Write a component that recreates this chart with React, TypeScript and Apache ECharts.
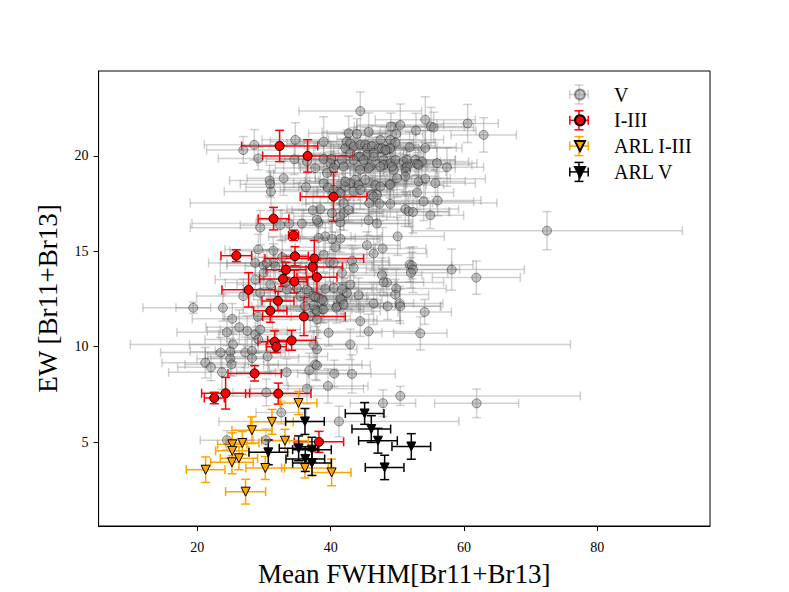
import React, { useEffect, useRef } from "react";
import * as echarts from "echarts";

// [x, y, xerr, yerr]
const vData: number[][] = [
  [44.45, 22.35, 9.2, 1.0], [26.9, 20.31, 5.5, 0.7], [28.55, 20.58, 7.5, 0.8], [29.15, 19.87, 6.0, 0.6],
  [34.7, 20.84, 5.0, 0.9], [34.55, 19.82, 4.2, 0.8], [38.95, 20.75, 8.0, 1.3], [38.95, 19.84, 6.5, 0.7],
  [40.7, 19.53, 5.5, 0.6], [42.7, 21.19, 6.0, 0.9], [43.95, 21.15, 4.5, 0.8], [45.7, 21.25, 7.0, 1.0],
  [49.05, 21.54, 5.5, 0.7], [50.45, 21.62, 6.5, 1.1], [49.85, 21.15, 4.0, 0.6], [48.95, 20.84, 8.0, 0.9],
  [47.45, 20.84, 5.0, 0.7], [49.7, 20.7, 6.0, 1.0], [54.2, 21.9, 7.5, 1.2], [55.05, 21.54, 5.0, 1.0],
  [55.45, 21.49, 6.0, 0.8], [52.8, 21.33, 9.0, 0.9], [60.55, 21.7, 4.6, 1.0], [62.95, 21.1, 4.9, 0.9],
  [42.45, 20.75, 7.0, 0.6], [42.2, 20.4, 5.5, 0.8], [42.95, 20.66, 9.5, 0.7], [43.45, 20.49, 6.0, 1.0],
  [44.45, 20.58, 4.5, 0.5], [45.2, 20.58, 7.0, 0.9], [45.45, 20.4, 5.0, 0.7], [46.2, 20.5, 8.5, 1.1],
  [47.2, 20.4, 6.0, 0.6], [47.7, 20.4, 4.0, 0.8], [48.45, 20.31, 5.5, 0.7], [48.95, 20.4, 7.0, 0.9],
  [42.95, 20.14, 6.5, 0.8], [44.2, 19.96, 5.0, 1.0], [45.45, 20.05, 8.0, 0.7], [46.45, 20.14, 4.5, 0.6],
  [48.2, 20.31, 6.0, 1.2], [51.85, 20.45, 7.0, 0.8], [54.2, 20.42, 5.5, 0.9],
  [44.45, 19.96, 6.0, 0.7], [46.45, 19.96, 7.5, 1.0], [47.95, 19.79, 5.0, 0.8], [48.95, 19.62, 6.5, 0.6],
  [49.7, 19.79, 9.0, 1.0], [50.95, 19.7, 5.5, 0.7], [51.45, 19.79, 4.5, 0.9], [52.7, 19.79, 6.0, 0.8],
  [53.7, 19.7, 7.0, 1.1], [52.95, 19.58, 5.0, 0.6], [53.2, 19.53, 8.0, 0.9], [55.95, 19.62, 6.0, 0.8],
  [57.45, 19.41, 5.5, 1.0], [51.2, 19.36, 7.5, 0.7], [51.45, 19.44, 4.0, 0.9], [51.3, 19.18, 6.0, 1.2],
  [51.2, 18.93, 5.0, 0.8], [49.45, 19.27, 6.5, 0.7], [49.95, 18.83, 8.0, 1.0], [47.95, 19.53, 5.5, 0.6],
  [47.45, 19.44, 7.0, 0.8], [49.2, 19.44, 4.5, 0.9], [45.95, 19.44, 6.0, 1.0], [44.95, 19.79, 9.0, 0.7],
  [43.45, 19.79, 5.0, 0.8], [41.7, 19.79, 6.5, 1.1], [40.1, 19.84, 7.0, 0.9], [39.95, 19.62, 5.5, 0.6],
  [39.45, 19.1, 8.0, 0.8], [37.7, 19.36, 6.0, 0.7], [36.45, 19.7, 7.5, 1.0], [40.45, 19.36, 5.0, 0.9],
  [41.95, 19.44, 6.5, 0.6], [44.45, 19.27, 7.0, 0.8], [45.7, 19.36, 5.5, 1.0], [43.7, 18.75, 6.0, 0.7],
  [42.95, 18.57, 8.5, 0.9], [44.2, 18.48, 5.0, 0.8], [43.45, 18.13, 6.0, 1.1], [45.2, 18.75, 7.0, 0.6],
  [46.7, 18.48, 4.5, 0.9], [47.45, 18.39, 6.0, 0.8], [48.85, 18.52, 5.5, 1.0], [48.95, 18.48, 8.0, 0.7],
  [46.2, 17.96, 6.5, 0.9], [46.95, 17.96, 5.0, 0.6], [53.2, 18.66, 7.0, 0.8], [54.2, 18.8, 9.0, 1.0],
  [55.7, 18.57, 6.0, 0.7], [52.95, 18.08, 5.5, 0.9], [56.05, 17.66, 6.5, 0.8], [53.95, 17.61, 7.5, 1.0],
  [54.95, 16.89, 5.0, 0.7], [51.2, 17.21, 8.0, 0.9], [51.7, 17.09, 6.0, 0.8], [52.35, 17.06, 5.5, 1.1],
  [48.95, 17.49, 7.0, 0.7], [47.35, 17.49, 6.0, 0.9], [45.8, 17.53, 9.5, 0.6], [46.45, 17.87, 5.0, 0.8],
  [44.45, 18.22, 6.5, 1.0], [42.2, 18.39, 7.0, 0.7], [41.2, 18.13, 5.5, 0.9], [40.45, 18.22, 8.0, 0.8],
  [42.2, 18.66, 6.0, 1.0], [38.95, 18.57, 7.5, 0.7], [36.3, 18.36, 9.0, 0.9], [41.45, 18.05, 5.0, 0.6],
  [30.85, 18.71, 6.0, 0.8], [30.95, 18.52, 4.5, 0.7], [31.05, 18.13, 7.0, 1.0], [32.95, 18.83, 5.5, 0.9],
  [39.6, 18.34, 6.5, 0.8], [41.95, 17.53, 23.0, 0.9],
  [37.35, 17.15, 6.0, 0.8], [38.45, 17.21, 5.0, 0.7], [40.2, 17.0, 7.5, 1.0], [41.95, 17.0, 6.0, 0.9],
  [42.7, 17.17, 8.5, 0.6], [38.15, 16.51, 6.5, 0.8], [41.45, 16.51, 5.5, 1.0], [41.45, 16.83, 7.0, 0.7],
  [37.95, 16.65, 9.0, 0.9], [45.7, 16.63, 6.0, 0.8], [46.95, 16.45, 5.0, 1.1], [35.7, 16.45, 16.5, 0.7],
  [29.45, 16.24, 10.5, 0.9], [32.45, 16.37, 6.0, 0.8], [33.8, 16.45, 5.0, 0.6], [50.05, 15.78, 7.0, 1.0],
  [39.2, 15.78, 8.5, 0.8], [41.45, 15.66, 6.0, 0.7], [38.2, 15.7, 5.5, 0.9], [40.2, 15.65, 7.0, 1.0],
  [40.7, 15.21, 6.0, 0.8], [45.45, 15.32, 5.0, 0.7], [46.45, 14.88, 8.0, 0.9], [47.8, 15.15, 6.5, 1.1],
  [72.45, 16.08, 20.3, 1.0],
  [29.15, 15.09, 5.0, 0.8], [31.4, 15.03, 6.5, 0.7], [32.75, 14.69, 4.5, 0.9], [28.7, 14.39, 7.0, 0.6],
  [29.95, 14.25, 5.5, 0.8], [31.45, 14.39, 8.0, 1.0], [30.45, 14.39, 6.0, 0.7], [31.7, 14.21, 4.5, 0.9],
  [29.95, 13.87, 6.5, 0.8], [39.85, 14.42, 9.0, 1.0], [40.45, 14.39, 6.0, 0.7], [38.95, 14.82, 7.5, 0.9],
  [43.2, 14.51, 5.5, 0.8], [41.7, 13.87, 6.5, 0.6], [43.45, 14.13, 8.0, 1.0], [51.85, 14.3, 9.5, 0.9],
  [52.2, 14.25, 6.0, 0.7], [52.35, 14.04, 7.0, 1.2], [52.05, 13.87, 5.5, 0.8], [58.15, 14.04, 10.9, 1.08],
  [61.85, 13.62, 6.6, 0.87], [47.7, 13.75, 6.0, 0.9], [48.45, 13.36, 8.5, 0.7], [42.95, 13.26, 7.0, 1.0],
  [28.7, 13.52, 6.0, 0.8], [30.95, 13.26, 5.0, 0.7], [33.2, 13.35, 9.0, 0.9], [33.45, 13.0, 6.5, 0.6],
  [34.95, 13.08, 5.5, 1.0], [35.45, 12.65, 7.0, 0.8], [36.7, 12.91, 6.0, 0.7], [37.45, 12.65, 8.0, 0.9],
  [38.2, 12.56, 5.0, 1.1], [38.95, 12.38, 6.5, 0.8], [38.7, 11.95, 7.5, 0.7], [37.7, 11.95, 5.5, 0.9],
  [36.95, 11.6, 6.0, 0.8], [37.95, 11.43, 9.0, 1.0], [40.95, 12.12, 7.0, 0.7], [41.7, 12.47, 6.0, 0.9],
  [42.45, 12.82, 5.0, 0.8], [41.7, 13.0, 8.0, 0.6], [40.45, 13.08, 6.5, 1.0], [39.2, 13.03, 7.0, 0.8],
  [44.2, 12.7, 5.5, 0.9], [47.95, 13.38, 6.0, 0.7], [49.85, 13.05, 7.5, 1.0], [49.7, 12.73, 5.0, 0.8],
  [50.35, 12.26, 6.5, 0.9], [48.55, 12.12, 8.0, 0.7], [46.45, 12.26, 6.0, 1.1], [41.45, 12.51, 5.5, 0.8],
  [38.7, 12.47, 7.0, 0.7], [37.7, 12.61, 6.0, 0.9], [37.45, 12.16, 5.0, 0.8], [37.95, 11.86, 9.5, 1.0],
  [38.95, 11.95, 6.0, 0.7], [40.85, 12.04, 7.5, 0.8], [41.95, 12.21, 5.5, 0.9], [36.2, 12.12, 8.0, 0.7],
  [36.45, 13.0, 6.0, 0.8], [26.9, 12.65, 7.0, 0.9], [29.45, 12.82, 5.5, 0.7], [50.45, 12.12, 6.0, 0.9],
  [54.1, 11.82, 4.0, 0.65], [53.45, 10.7, 4.0, 0.87], [44.45, 11.34, 6.0, 0.8], [45.7, 10.8, 7.5, 0.9],
  [39.7, 10.73, 8.0, 0.7], [42.95, 10.12, 33.0, 0.8], [37.95, 9.86, 6.0, 0.9], [37.7, 9.07, 7.0, 0.8],
  [37.45, 10.12, 5.5, 0.7], [19.4, 12.04, 2.6, 0.3], [23.85, 12.04, 12.0, 0.7], [25.25, 11.46, 6.0, 0.8],
  [26.3, 11.02, 5.0, 0.9], [24.45, 10.75, 7.5, 0.7], [27.5, 10.82, 6.0, 0.8], [28.7, 10.64, 5.5, 1.0],
  [29.15, 10.38, 8.0, 0.7], [25.35, 10.12, 6.5, 0.9], [23.5, 9.69, 9.0, 0.8], [24.95, 9.74, 6.0, 0.7],
  [24.95, 9.37, 5.0, 0.9], [25.15, 9.07, 7.0, 0.6], [21.2, 9.16, 6.5, 0.8], [22.05, 8.92, 5.0, 0.7],
  [23.7, 8.66, 8.0, 0.9], [27.2, 9.7, 6.0, 0.8], [28.2, 9.78, 5.5, 0.7], [28.2, 9.4, 7.0, 1.0],
  [30.55, 9.49, 9.0, 0.8], [29.45, 10.9, 6.0, 0.7], [29.1, 11.57, 5.0, 0.9], [33.4, 8.66, 7.5, 0.7],
  [36.8, 8.76, 6.0, 0.9], [37.95, 9.02, 8.0, 0.8], [40.55, 8.59, 5.5, 0.7], [43.2, 8.57, 6.5, 1.0],
  [36.45, 7.8, 8.5, 0.8], [39.6, 7.94, 6.0, 0.9], [47.85, 7.04, 4.9, 0.7], [50.45, 7.42, 27.0, 0.5],
  [61.9, 7.03, 6.3, 0.75], [32.6, 6.55, 3.8, 0.6], [41.25, 6.08, 18.0, 0.8], [24.45, 5.1, 4.0, 0.5],
  [30.3, 5.1, 3.5, 0.6], [30.35, 7.6, 5.0, 0.7],
];

const i3Data: number[][] = [
  [32.35, 20.52, 5.7, 0.82], [36.55, 20.0, 6.75, 0.85], [40.44, 17.86, 5.0, 1.29], [31.44, 16.71, 2.3, 0.59],
  [34.44, 15.84, 0.75, 0.27], [25.85, 14.77, 2.3, 0.31], [34.65, 14.74, 2.0, 0.5], [37.55, 14.62, 7.4, 0.95],
  [37.29, 14.18, 4.5, 0.5], [33.3, 14.03, 3.0, 0.4], [37.95, 13.64, 3.0, 0.9], [32.85, 13.55, 3.5, 0.4],
  [34.55, 13.41, 2.0, 0.6], [27.7, 12.98, 4.0, 0.9], [32.1, 12.4, 2.4, 0.5], [30.95, 11.88, 2.5, 0.6],
  [36.0, 11.58, 6.2, 1.0], [31.6, 10.26, 2.5, 0.57], [31.85, 10.0, 1.5, 0.3], [34.15, 10.33, 3.6, 0.52],
  [28.6, 8.6, 4.0, 0.4], [24.25, 7.56, 3.6, 0.83], [22.55, 7.31, 1.5, 0.3], [32.15, 7.54, 4.9, 0.55],
  [38.25, 5.01, 3.7, 0.55],
];

const arlI3Data: number[][] = [
  [35.19, 7.05, 2.75, 0.61], [31.2, 6.06, 3.2, 0.65], [28.2, 5.62, 3.0, 0.7], [33.15, 5.07, 3.5, 0.6],
  [25.25, 4.88, 2.2, 0.6], [26.75, 4.95, 2.5, 0.6], [25.25, 4.54, 2.5, 0.6], [26.25, 4.15, 2.8, 0.6],
  [25.2, 3.94, 3.2, 0.6], [21.25, 3.55, 2.9, 0.67], [30.2, 3.64, 2.9, 0.6], [36.15, 3.64, 3.5, 0.52],
  [40.15, 3.41, 2.9, 0.7], [27.25, 2.4, 3.0, 0.65],
];

const arlVData: number[][] = [
  [45.1, 6.5, 2.9, 0.57], [46.1, 5.68, 2.9, 0.7], [47.1, 5.07, 2.9, 0.65], [52.1, 4.77, 2.9, 0.67],
  [48.1, 3.67, 2.9, 0.64], [36.15, 6.08, 2.9, 0.68], [30.65, 4.46, 2.9, 0.65], [35.2, 4.67, 2.9, 0.65],
  [37.2, 4.6, 2.9, 0.65], [36.2, 4.11, 2.9, 0.65], [37.2, 3.9, 2.9, 0.65],
];

const seriesNames = ["V", "I-III", "ARL I-III", "ARL V"];
const xTicks = [20, 40, 60, 80];
const yTicks = [5, 10, 15, 20];
const xLabel = "Mean FWHM[Br11+Br13]";
const yLabel = "EW [Br11+Br13]";

const FONT = "'Liberation Serif', 'DejaVu Serif', serif";
const CAP = 4.5;
const TRI_DOWN = "path://M0,0L10,0L5,10Z";

const GRAY_BAR = "rgba(128,128,128,0.36)";
const GRAY_FILL = "rgba(128,128,128,0.45)";
const GRAY_EDGE = "rgba(0,0,0,0.38)";

function errRender(color: string, lw: number) {
  return (_params: any, api: any) => {
    const x = api.value(0);
    const y = api.value(1);
    const ex = api.value(2);
    const ey = api.value(3);
    const l = api.coord([x - ex, y]);
    const r = api.coord([x + ex, y]);
    const b = api.coord([x, y - ey]);
    const t = api.coord([x, y + ey]);
    const style = { stroke: color, lineWidth: lw, fill: null };
    const ln = (x1: number, y1: number, x2: number, y2: number) => ({
      type: "line",
      shape: { x1, y1, x2, y2 },
      style,
    });
    return {
      type: "group",
      children: [
        ln(l[0], l[1], r[0], r[1]),
        ln(l[0], l[1] - CAP, l[0], l[1] + CAP),
        ln(r[0], r[1] - CAP, r[0], r[1] + CAP),
        ln(b[0], b[1], t[0], t[1]),
        ln(b[0] - CAP, b[1], b[0] + CAP, b[1]),
        ln(t[0] - CAP, t[1], t[0] + CAP, t[1]),
      ],
    };
  };
}

function legendCross(cx: number, cy: number, color: string) {
  const h = 9.2;
  const v = 9.5;
  const style = { stroke: color, lineWidth: 1.5 };
  const mk = (x1: number, y1: number, x2: number, y2: number) => ({
    type: "line",
    shape: { x1, y1, x2, y2 },
    style,
    silent: true,
  });
  return [
    mk(cx - h, cy, cx + h, cy),
    mk(cx - h, cy - CAP, cx - h, cy + CAP),
    mk(cx + h, cy - CAP, cx + h, cy + CAP),
    mk(cx, cy - v, cx, cy + v),
    mk(cx - CAP, cy - v, cx + CAP, cy - v),
    mk(cx - CAP, cy + v, cx + CAP, cy + v),
  ];
}

export default function App() {
  const ref = useRef<HTMLDivElement>(null);

  useEffect(() => {
    if (!ref.current) return;
    const chart = echarts.init(ref.current, undefined, { renderer: "svg" });

    const sets = [
      { name: seriesNames[0], data: vData, bar: GRAY_BAR, fill: GRAY_FILL, edge: GRAY_EDGE, symbol: "circle", rot: 0 },
      { name: seriesNames[1], data: i3Data, bar: "#ff0000", fill: "#ff0000", edge: "#000000", symbol: "circle", rot: 0 },
      { name: seriesNames[2], data: arlI3Data, bar: "#ffa500", fill: "#ffa500", edge: "#000000", symbol: "triangle", rot: 180 },
      { name: seriesNames[3], data: arlVData, bar: "#000000", fill: "#000000", edge: "#000000", symbol: "triangle", rot: 180 },
    ];

    const series: any[] = [];
    sets.forEach((s) => {
      series.push({
        type: "custom",
        name: s.name + " err",
        data: s.data,
        encode: { x: 0, y: 1 },
        renderItem: errRender(s.bar, 1.5),
        clip: true,
        silent: true,
      });
      series.push({
        type: "scatter",
        name: s.name,
        data: s.data.map((d) => [d[0], d[1]]),
        symbol: s.symbol,
        symbolRotate: s.rot,
        symbolSize: 9,
        itemStyle: { color: s.fill, borderColor: s.edge, borderWidth: 1, opacity: 1 },
        silent: true,
      });
    });

    const legendCenters = [94.5, 120.3, 146.1, 171.9];
    const legendColors = [GRAY_BAR, "#ff0000", "#ffa500", "#000000"];
    const graphicEls: any[] = [];
    legendCenters.forEach((cy, i) => {
      graphicEls.push(...legendCross(579, cy, legendColors[i]));
    });

    chart.setOption({
      animation: false,
      backgroundColor: "#ffffff",
      textStyle: { fontFamily: FONT },
      grid: {
        left: 98.6,
        right: 79,
        top: 71,
        bottom: 65,
        show: true,
        borderColor: "#000",
        borderWidth: 1,
        backgroundColor: "transparent",
      },
      xAxis: {
        type: "value",
        min: 5.2,
        max: 96.9,
        name: xLabel,
        nameLocation: "middle",
        nameGap: 34,
        nameTextStyle: { fontSize: 27, fontFamily: FONT, color: "#000" },
        splitLine: { show: false },
        axisLine: { show: true, onZero: false, lineStyle: { color: "#000", width: 1 } },
        axisTick: { show: true, inside: false, length: 5, lineStyle: { color: "#000", width: 1 }, customValues: xTicks },
        axisLabel: { customValues: xTicks, margin: 14, color: "#000", fontSize: 14, fontFamily: FONT },
      },
      yAxis: {
        type: "value",
        min: 0.6,
        max: 24.45,
        name: yLabel,
        nameLocation: "middle",
        nameGap: 37,
        nameRotate: 90,
        nameTextStyle: { fontSize: 27, fontFamily: FONT, color: "#000" },
        splitLine: { show: false },
        axisLine: { show: true, onZero: false, lineStyle: { color: "#000", width: 1 } },
        axisTick: { show: true, inside: false, length: 5, lineStyle: { color: "#000", width: 1 }, customValues: yTicks },
        axisLabel: { customValues: yTicks, margin: 10, color: "#000", fontSize: 14, fontFamily: FONT },
      },
      legend: {
        show: true,
        data: [
          { name: seriesNames[0], icon: "circle" },
          { name: seriesNames[1], icon: "circle" },
          { name: seriesNames[2], icon: TRI_DOWN },
          { name: seriesNames[3], icon: TRI_DOWN },
        ],
        orient: "vertical",
        left: 569,
        top: 79.5,
        itemWidth: 58,
        itemHeight: 10,
        itemGap: 5.8,
        symbolKeepAspect: true,
        symbolRotate: 0,
        selectedMode: false,
        textStyle: { fontSize: 20, fontFamily: FONT, color: "#000", lineHeight: 20 },
      },
      graphic: graphicEls,
      series,
    });

    return () => {
      chart.dispose();
    };
  }, []);

  return (
    <div
      ref={ref}
      style={{ position: "absolute", left: 0, top: 0, width: 789, height: 592 }}
    />
  );
}
